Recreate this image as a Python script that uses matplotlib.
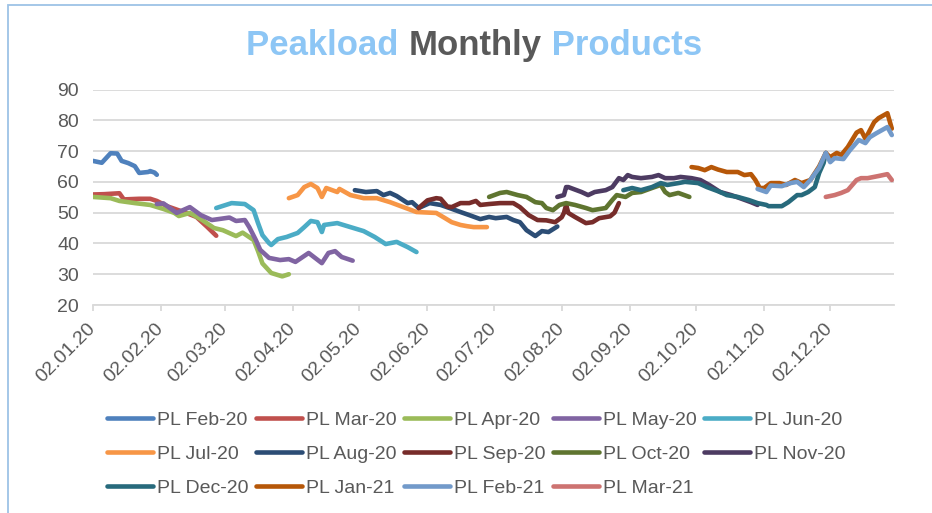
import matplotlib
matplotlib.use("Agg")
import matplotlib.pyplot as plt
import matplotlib.dates as mdates
import pandas as pd
from matplotlib.patches import Rectangle

plt.rcParams['font.family'] = ['Liberation Sans', 'DejaVu Sans']

# data (2020 dates, MM-DD) -> EUR/MWh
feb20_dates = ["01-02", "01-06", "01-10", "01-13", "01-15", "01-18", "01-21", "01-23", "01-27", "01-28", "01-30", "01-31"]
feb20_vals = [66.8, 66.2, 69.3, 69.2, 66.8, 66.1, 65.1, 62.9, 63.2, 63.5, 63.0, 62.3]

mar20_dates = ["01-02", "01-07", "01-14", "01-16", "01-23", "01-28", "01-31", "02-05", "02-09", "02-13", "02-18", "02-23", "02-27"]
mar20_vals = [55.9, 56.0, 56.3, 54.3, 54.5, 54.5, 53.8, 52.0, 51.0, 50.0, 48.6, 45.3, 42.5]

apr20_dates = ["01-02", "01-10", "01-14", "01-21", "01-28", "02-03", "02-08", "02-10", "02-15", "02-20", "02-26",
               "03-01", "03-07", "03-10", "03-15", "03-17", "03-19", "03-23", "03-28", "03-31"]
apr20_vals = [55.1, 54.7, 53.8, 53.1, 52.5, 51.2, 49.9, 48.9, 49.9, 47.9, 45.0,
              44.3, 42.4, 43.5, 41.1, 37.5, 33.5, 30.4, 29.3, 30.0]

may20_dates = ["01-31", "02-03", "02-09", "02-15", "02-20", "02-25", "03-04", "03-07", "03-11", "03-13", "03-16",
               "03-18", "03-22", "03-27", "03-31", "04-03", "04-09", "04-15", "04-18", "04-21", "04-24", "04-29"]
may20_vals = [52.8, 53.0, 49.9, 51.8, 49.2, 47.6, 48.4, 47.3, 47.6, 45.3, 41.1,
              37.9, 35.3, 34.6, 34.9, 34.0, 36.9, 33.6, 36.9, 37.5, 35.6, 34.4]

jun20_dates = ["02-27", "03-05", "03-11", "03-15", "03-17", "03-19", "03-22", "03-23", "03-26", "03-30", "04-04", "04-07",
               "04-10", "04-13", "04-15", "04-16", "04-22", "04-28", "05-04", "05-09", "05-14", "05-19", "05-24", "05-28"]
jun20_vals = [51.5, 53.1, 52.8, 50.8, 46.6, 42.7, 40.1, 39.5, 41.4, 42.1, 43.4, 45.3,
              47.3, 46.9, 43.7, 46.0, 46.6, 45.3, 44.0, 42.1, 39.8, 40.5, 38.8, 37.2]

jul20_dates = ["03-31", "04-04", "04-07", "04-10", "04-13", "04-15", "04-17", "04-22", "04-23", "04-28", "05-04",
               "05-10", "05-16", "05-22", "05-28", "06-06", "06-10", "06-13", "06-17", "06-20", "06-23", "06-29"]
jul20_vals = [54.7, 55.7, 58.3, 59.3, 58.0, 55.1, 58.0, 56.7, 57.7, 55.7, 54.7,
              54.7, 53.4, 51.8, 50.2, 49.9, 48.2, 46.9, 46.0, 45.6, 45.3, 45.3]

aug20_dates = ["04-30", "05-05", "05-10", "05-13", "05-16", "05-19", "05-24", "05-26", "05-29", "06-03", "06-08", "06-12",
               "06-17", "06-21", "06-26", "06-30", "07-03", "07-08", "07-11", "07-14", "07-17", "07-21", "07-24", "07-27", "07-31"]
aug20_vals = [57.3, 56.7, 57.0, 55.7, 56.4, 55.4, 53.1, 53.4, 51.5, 53.1, 52.5, 51.5,
              50.2, 49.2, 47.9, 48.6, 48.2, 48.6, 47.6, 46.9, 44.3, 42.4, 44.0, 43.7, 45.5]

sep20_dates = ["05-29", "06-02", "06-06", "06-08", "06-11", "06-13", "06-17", "06-21", "06-24", "06-26", "06-30", "07-05",
               "07-11", "07-14", "07-18", "07-22", "07-26", "07-30", "08-02", "08-03", "08-04", "08-05", "08-08", "08-13",
               "08-16", "08-19", "08-24", "08-26", "08-28"]
sep20_vals = [51.5, 54.0, 54.7, 54.5, 52.0, 51.8, 53.1, 53.1, 53.8, 52.5, 52.8, 53.1,
              53.1, 51.8, 49.2, 47.6, 47.5, 46.9, 48.5, 49.9, 52.5, 49.9, 48.6, 46.6,
              46.9, 48.2, 48.8, 50.0, 53.1]

oct20_dates = ["06-30", "07-05", "07-08", "07-13", "07-17", "07-21", "07-24", "07-26", "07-29", "08-01", "08-04", "08-08",
               "08-13", "08-16", "08-22", "08-25", "08-27", "08-31", "09-03", "09-07", "09-12", "09-16", "09-18", "09-20",
               "09-24", "09-29"]
oct20_vals = [55.1, 56.4, 56.7, 55.7, 55.1, 53.4, 53.1, 51.5, 50.8, 52.5, 53.1, 52.5,
              51.5, 50.8, 51.5, 54.1, 55.7, 55.1, 56.4, 56.7, 58.0, 59.0, 56.7, 55.7,
              56.4, 55.1]

nov20_dates = ["07-31", "08-03", "08-04", "08-05", "08-11", "08-14", "08-17", "08-22", "08-25", "08-28", "08-30", "09-01",
               "09-03", "09-07", "09-12", "09-15", "09-18", "09-22", "09-25", "09-30", "10-04", "10-08", "10-13", "10-18",
               "10-22", "10-27", "10-30"]
nov20_vals = [55.1, 55.7, 58.3, 58.3, 56.7, 55.7, 56.7, 57.3, 58.3, 61.2, 60.6, 62.2,
              61.6, 61.2, 61.6, 62.2, 61.2, 61.2, 61.6, 61.2, 60.6, 59.0, 56.7, 55.7,
              54.7, 53.4, 52.5]

dec20_dates = ["08-30", "09-03", "09-07", "09-12", "09-16", "09-19", "09-24", "09-27", "10-03", "10-07", "10-13", "10-16",
               "10-21", "10-26", "10-30", "11-03", "11-04", "11-10", "11-13", "11-17", "11-19", "11-22", "11-25", "11-27",
               "11-29", "11-30"]
dec20_vals = [57.3, 58.0, 57.3, 58.3, 59.6, 59.0, 59.6, 60.0, 59.6, 58.3, 56.7, 55.7,
              55.1, 54.1, 53.1, 52.5, 52.1, 52.1, 53.4, 55.7, 55.7, 56.7, 58.3, 62.9,
              66.1, 69.4]

jan21_dates = ["09-30", "10-03", "10-06", "10-09", "10-12", "10-16", "10-21", "10-24", "10-27", "10-29", "10-31", "11-02",
               "11-05", "11-09", "11-12", "11-16", "11-19", "11-23", "11-27", "11-30", "12-02", "12-05", "12-07", "12-10",
               "12-14", "12-16", "12-18", "12-22", "12-24", "12-28", "12-30"]
jan21_vals = [64.8, 64.5, 63.8, 64.8, 64.0, 63.2, 63.2, 62.2, 62.5, 60.6, 58.0, 58.0,
              59.6, 59.6, 59.0, 60.6, 59.6, 60.6, 65.0, 69.4, 68.0, 69.4, 68.7, 71.3,
              76.0, 76.8, 74.0, 79.4, 80.7, 82.3, 77.3]

feb21_dates = ["10-30", "11-03", "11-05", "11-10", "11-14", "11-17", "11-20", "11-23", "11-27", "11-30", "12-02", "12-04",
               "12-08", "12-11", "12-15", "12-18", "12-20", "12-23", "12-28", "12-30"]
feb21_vals = [57.7, 56.7, 58.8, 58.6, 59.6, 60.0, 58.3, 60.6, 64.6, 69.4, 66.4, 67.7,
              67.4, 70.3, 73.6, 72.6, 74.5, 75.8, 77.8, 75.2]

mar21_dates = ["11-30", "12-04", "12-07", "12-10", "12-14", "12-16", "12-19", "12-24", "12-28", "12-30"]
mar21_vals = [55.1, 55.7, 56.4, 57.3, 60.6, 61.2, 61.2, 61.9, 62.5, 60.6]

labels = ["PL Feb-20", "PL Mar-20", "PL Apr-20", "PL May-20", "PL Jun-20",
          "PL Jul-20", "PL Aug-20", "PL Sep-20", "PL Oct-20", "PL Nov-20",
          "PL Dec-20", "PL Jan-21", "PL Feb-21", "PL Mar-21"]
all_dates = [feb20_dates, mar20_dates, apr20_dates, may20_dates, jun20_dates,
             jul20_dates, aug20_dates, sep20_dates, oct20_dates, nov20_dates,
             dec20_dates, jan21_dates, feb21_dates, mar21_dates]
all_vals = [feb20_vals, mar20_vals, apr20_vals, may20_vals, jun20_vals,
            jul20_vals, aug20_vals, sep20_vals, oct20_vals, nov20_vals,
            dec20_vals, jan21_vals, feb21_vals, mar21_vals]
colors = ["#4F81BD", "#C0504D", "#9BBB59", "#8064A2", "#4BACC6",
          "#F79646", "#2C4D75", "#772C2A", "#5F7530", "#4D3B62",
          "#276A7C", "#B65708", "#729ACA", "#CD7371"]

grey = "#595959"
grid = "#D9D9D9"
title_blue = "#8DC6F5"

fig = plt.figure(figsize=(9.32, 5.13), dpi=100)
W, H = 932, 513
ax = fig.add_axes([93 / W, 1 - 305 / H, 801 / W, (305 - 89.5) / H])

lines = []
for lab, d, v, c in zip(labels, all_dates, all_vals, colors):
    x = pd.to_datetime(["2020-" + s for s in d])
    ln, = ax.plot(x, v, color=c, lw=3.3, label=lab, solid_capstyle="round", solid_joinstyle="round")
    lines.append(ln)

ax.set_ylim(20, 90)
ax.set_yticks(range(20, 91, 10))
ax.set_xlim(pd.Timestamp("2020-01-02"), pd.Timestamp("2020-12-31"))
ax.set_xticks(pd.date_range("2020-01-01", periods=12, freq="MS") + pd.Timedelta(days=1))
ax.xaxis.set_major_formatter(mdates.DateFormatter("%d.%m.%y"))

ax.grid(axis="y", color=grid, lw=1.3)
ax.set_axisbelow(True)
for s in ["top", "right", "left"]:
    ax.spines[s].set_visible(False)
ax.spines["bottom"].set_color(grid)
ax.spines["bottom"].set_linewidth(1.3)
ax.tick_params(axis="y", length=0, pad=10, labelsize=14, labelcolor=grey)
ax.tick_params(axis="x", length=4, width=1.3, color=grid, pad=11, labelsize=14, labelcolor=grey)
for t in ax.get_xticklabels():
    t.set_rotation(45)
    t.set_ha("right")
    t.set_va("center")
    t.set_rotation_mode("anchor")

# legend, row-major like the original
order = []
for c in range(5):
    for r in range(3):
        i = r * 5 + c
        if i < len(lines):
            order.append(i)
fig.legend([lines[i] for i in order], [labels[i] for i in order], ncol=5,
           loc="upper left", bbox_to_anchor=(107 / W, 1 - 411 / H), borderaxespad=0,
           frameon=False, fontsize=14, labelcolor=grey, handlelength=2.37,
           handletextpad=0.2, columnspacing=0.38, labelspacing=0.85, borderpad=0)

# title in three colours
ty = 1 - 55 / H
mid = fig.text(475 / W, ty, "Monthly", fontsize=25, fontweight="bold", color=grey,
               ha="center", va="baseline")
ax.annotate("Peakload ", xy=(0, 0), xycoords=mid, fontsize=25, fontweight="bold",
            color=title_blue, ha="right", va="bottom", annotation_clip=False)
ax.annotate(" Products", xy=(1, 0), xycoords=mid, fontsize=25, fontweight="bold",
            color=title_blue, ha="left", va="bottom", annotation_clip=False)

# chart area border
fig.patches.append(Rectangle((8 / W, -0.1), 1.2, 1.1 - 5 / H, transform=fig.transFigure,
                             fill=False, edgecolor="#9DC3E6", lw=1.3))

fig.savefig("out.png", dpi=100)
